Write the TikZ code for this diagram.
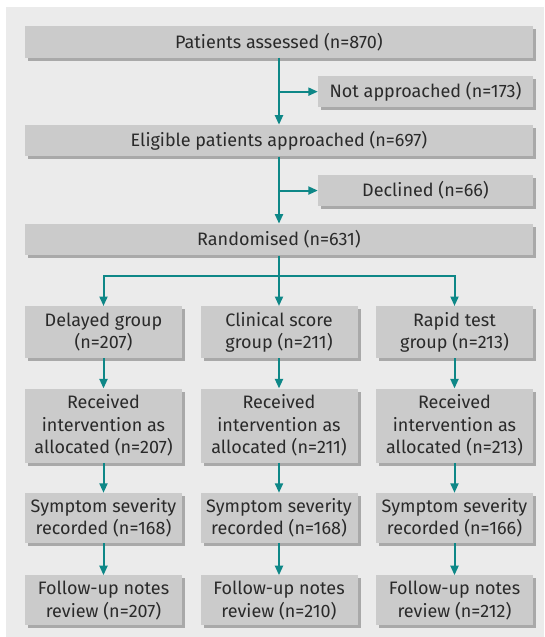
\documentclass[tikz,border=0pt]{standalone}
\usepackage{fontspec}
\setmainfont{Fira Sans}
\usetikzlibrary{positioning,arrows.meta,shadows}

\definecolor{panel}{HTML}{EBEBEB}
\definecolor{boxfill}{HTML}{CBCBCB}
\definecolor{boxshade}{HTML}{A9A9A9}
\definecolor{boxtext}{HTML}{2A2A2A}
\definecolor{flowcol}{HTML}{0E8787}

\begin{document}
\begin{tikzpicture}[x=1pt,y=1pt,>={Triangle[length=9.5pt,width=8pt]},
		node distance=30pt,
		every node/.style={font=\fontsize{18}{22.5}\selectfont},
		box/.style={shape=rectangle,fill=boxfill,text=boxtext,align=center,
			inner sep=0pt,drop shadow={shadow xshift=3pt,shadow yshift=-3pt,
			fill=boxshade,opacity=1}},
		widebox/.style={box,minimum width=508pt,minimum height=31.5pt},
		sidebox/.style={box,minimum width=215pt,minimum height=31.5pt},
		groupbox/.style={box,minimum width=157pt},
		flow/.style={draw=flowcol,line width=2pt}]
		\useasboundingbox (0,0) rectangle (544,-637);
		\fill[panel] (6,-7) rectangle (544,-637);

		% create the nodes.
		\node[widebox] (assessed) at (279,-41.75) {Patients assessed (n=870)};
		\node[sidebox] (notapp) [below left=18pt and 0pt of assessed.south east]
			{Not approached (n=173)};
		\node[widebox] (eligible) [below=67pt of assessed]
			{Eligible patients approached (n=697)};
		\node[sidebox] (declined) [below left=18pt and 0pt of eligible.south east]
			{Declined (n=66)};
		\node[widebox] (random) [below=67pt of eligible] {Randomised (n=631)};
		\coordinate[below=20.5pt of random.south] (split);

		\node[groupbox,minimum height=52pt] (delayed)
			[below right=50.5pt and 0pt of random.south west]
			{Delayed group\\(n=207)};
		\node[groupbox,minimum height=52pt] (clinical) [below=50.5pt of random]
			{Clinical score\\group (n=211)};
		\node[groupbox,minimum height=52pt] (rapid)
			[below left=50.5pt and 0pt of random.south east]
			{Rapid test\\group (n=213)};

		\node[groupbox,minimum height=74pt] (recdelayed) [below=of delayed]
			{Received\\intervention as\\allocated (n=207)};
		\node[groupbox,minimum height=74pt] (recclinical) [below=of clinical]
			{Received\\intervention as\\allocated (n=211)};
		\node[groupbox,minimum height=74pt] (recrapid) [below=of rapid]
			{Received\\intervention as\\allocated (n=213)};

		\node[groupbox,minimum height=50pt] (sevdelayed) [below=of recdelayed]
			{Symptom severity\\recorded (n=168)};
		\node[groupbox,minimum height=50pt] (sevclinical) [below=of recclinical]
			{Symptom severity\\recorded (n=168)};
		\node[groupbox,minimum height=50pt] (sevrapid) [below=of recrapid]
			{Symptom severity\\recorded (n=166)};

		\node[groupbox,minimum height=50pt] (fudelayed) [below=32pt of sevdelayed]
			{Follow-up notes\\review (n=207)};
		\node[groupbox,minimum height=50pt] (fuclinical) [below=32pt of sevclinical]
			{Follow-up notes\\review (n=210)};
		\node[groupbox,minimum height=50pt] (furapid) [below=32pt of sevrapid]
			{Follow-up notes\\review (n=212)};

		% connect the nodes
		\draw[flow,->] (assessed) -- (eligible);
		\draw[flow,->] (assessed.south |- notapp.west) -- (notapp);
		\draw[flow,->] (eligible) -- (random);
		\draw[flow,->] (eligible.south |- declined.west) -- (declined);
		\draw[flow,->] (random) -- (clinical);
		\draw[flow,->] (split) -| (delayed);
		\draw[flow,->] (split) -| (rapid);
		\draw[flow,->] (delayed) -- (recdelayed);
		\draw[flow,->] (clinical) -- (recclinical);
		\draw[flow,->] (rapid) -- (recrapid);
		\draw[flow,->] (recdelayed) -- (sevdelayed);
		\draw[flow,->] (recclinical) -- (sevclinical);
		\draw[flow,->] (recrapid) -- (sevrapid);
		\draw[flow,->] (sevdelayed) -- (fudelayed);
		\draw[flow,->] (sevclinical) -- (fuclinical);
		\draw[flow,->] (sevrapid) -- (furapid);
	\end{tikzpicture}
\end{document}
